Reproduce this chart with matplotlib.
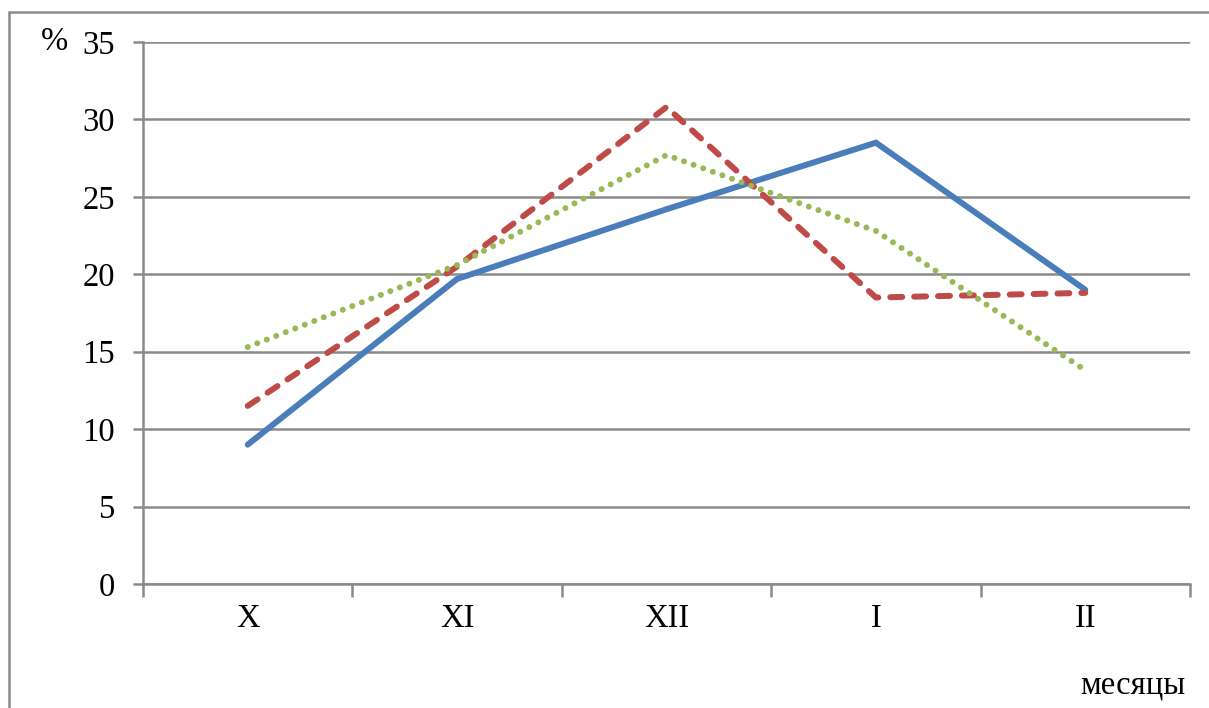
import matplotlib.pyplot as plt
from matplotlib.patches import Rectangle

# === Data ===
months = ["X", "XI", "XII", "I", "II"]
series_solid = [9.0, 19.7, 24.2, 28.5, 19.0]
series_dashed = [11.5, 20.5, 30.8, 18.5, 18.8]
series_dotted = [15.3, 20.6, 27.7, 22.8, 13.8]

# === Style ===
plt.rcParams.update({
    "font.family": "serif",
    "font.serif": ["Liberation Serif", "DejaVu Serif"],
    "font.size": 23.5,
})
grid_col = "#8a8a8a"
colors = ["#4a7ebb", "#be4b48", "#98b954"]
lw = 4.3

fig = plt.figure(figsize=(12.09, 7.08), dpi=100)
ax = fig.add_axes([143 / 1209, 1 - 584 / 708, 1047 / 1209, 542 / 708])

# outer frame of the chart area
fig.patches.append(Rectangle((9 / 1209, -0.05), 1.2, 1.05 - 12 / 708,
                             transform=fig.transFigure, fill=False,
                             edgecolor=grid_col, linewidth=1.8, zorder=0))

x = list(range(len(months)))
ax.plot(x, series_solid, color=colors[0], linewidth=lw,
        solid_capstyle="round", solid_joinstyle="miter", zorder=3)
ax.plot(x, series_dashed, color=colors[1], linewidth=lw,
        linestyle=(0, (2.0, 2.0)), dash_capstyle="round", zorder=3)
ax.plot(x, series_dotted, color=colors[2], linewidth=lw,
        linestyle=(0, (0.01, 1.7)), dash_capstyle="round", zorder=3)

# axes
ax.set_xlim(-0.5, len(months) - 0.5)
ax.set_ylim(0, 35)
ax.set_yticks(range(0, 36, 5))
ax.grid(axis="y", color=grid_col, linewidth=1.8)
ax.set_axisbelow(True)
for s in ["top", "right"]:
    ax.spines[s].set_visible(False)
for s in ["left", "bottom"]:
    ax.spines[s].set_color(grid_col)
    ax.spines[s].set_linewidth(1.8)

# category labels in the middle, tick marks between categories
ax.set_xticks([i - 0.5 for i in range(len(months) + 1)])
ax.set_xticklabels([])
ax.set_xticks(x, minor=True)
ax.set_xticklabels(months, minor=True)
ax.tick_params(axis="x", which="major", length=9, width=1.8, color=grid_col)
ax.tick_params(axis="x", which="minor", length=0, pad=14)
ax.tick_params(axis="y", length=7, width=1.8, color=grid_col, pad=13)

fig.text(55 / 1209, 1 - 42 / 708, "%", ha="center", va="center")
fig.text(1133 / 1209, 1 - 685 / 708, "месяцы", ha="center", va="center")

fig.savefig("out.png", dpi=100, facecolor="white")
plt.close(fig)
